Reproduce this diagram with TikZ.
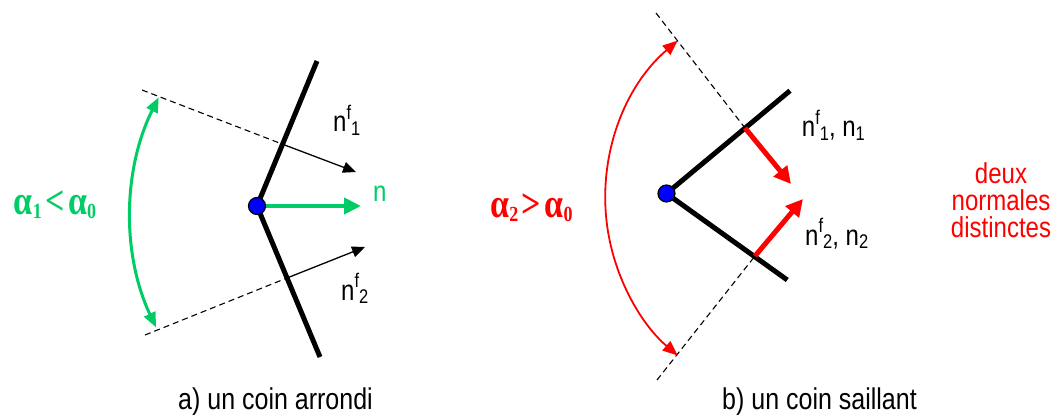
\documentclass[tikz,border=0pt]{standalone}
\usepackage{graphicx}
\usepackage{fontspec}
\setmainfont{Liberation Sans}
\newfontfamily\grkfont{Liberation Serif}
\usetikzlibrary{arrows.meta}
\definecolor{ggreen}{RGB}{0,204,102}
\definecolor{rred}{RGB}{255,0,0}
\definecolor{bblue}{RGB}{0,0,255}
\newcommand\lblfont{\fontsize{24}{28}\selectfont}
\newcommand\scrfont{\fontsize{16.5}{18}\selectfont}
\newcommand\nfv[1]{n\raisebox{.42em}{\scrfont f}\raisebox{-.12em}{\scrfont #1}}
\newcommand\nsub[1]{n\raisebox{-.12em}{\scrfont #1}}
\newcommand\stretchy[1]{\scalebox{1}[1.2]{#1}}
\newcommand\alf[3]{{\grkfont\bfseries\fontsize{34}{38}\selectfont α\raisebox{-.1em}{\fontsize{18}{18}\selectfont #1}\hspace{3.5pt}#2\hspace{3.5pt}α\raisebox{-.1em}{\fontsize{18}{18}\selectfont #3}}}
\begin{document}
\begin{tikzpicture}[x=1pt,y=-1pt,
  seg/.style={line width=5pt, line join=round},
  dsh/.style={line width=1.1pt, dash pattern=on 6pt off 4pt},
  nrm/.style={line width=1.3pt, -{Triangle[length=13pt,width=11pt]}},
  gthick/.style={ggreen, line width=4pt, -{Triangle[length=17pt,width=16pt]}},
  garc/.style={ggreen, line width=3pt, {Triangle[length=15pt,width=12pt]}-{Triangle[length=15pt,width=12pt]}},
  rthick/.style={rred, line width=5pt, -{Triangle[length=17pt,width=17pt]}},
  rarc/.style={rred, line width=1.8pt, {Triangle[length=15pt,width=12pt]}-{Triangle[length=15pt,width=12pt]}},
  vdot/.style={circle, fill=bblue, draw=black, line width=1.2pt, minimum size=17pt, inner sep=0pt},
  lab/.style={inner sep=0pt, anchor=base west, font=\lblfont},
  rlab/.style={inner sep=0pt, anchor=base, font=\lblfont, text=rred},
  captxt/.style={inner sep=0pt, anchor=base west, font=\fontsize{25}{30}\selectfont},
]
\useasboundingbox (0,0) rectangle (1055,415);

% ---------- left: coin arrondi ----------
\coordinate (V1) at (257,206);
\coordinate (T1) at (317,61);
\coordinate (B1) at (320,357);
\coordinate (D1a) at (142,90);
\coordinate (I1a) at (282,144);
\coordinate (E1a) at (356,172);
\coordinate (D1b) at (145,335);
\coordinate (I1b) at (287,278);
\coordinate (E1b) at (365,247);
\coordinate (G1) at (361,206);
\coordinate (A1) at (158.7,97.3);

\draw[dsh] (D1a) -- (I1a);
\draw[nrm] (I1a) -- (E1a);
\draw[dsh] (D1b) -- (I1b);
\draw[nrm] (I1b) -- (E1b);
\draw[seg] (T1) -- (V1) -- (B1);
\node[vdot] (P1) at (V1) {};
\draw[gthick] (P1) -- (G1);
\draw[garc] (A1) arc[start angle=153.5, end angle=205.2, radius=264pt];

\node[lab] (nf1) at (333,131.7) {\stretchy{\nfv{1}}};
\node[lab] (nf2) at (341,300) {\stretchy{\nfv{2}}};
\node[lab, text=ggreen] (nn) at (373,201.7) {\stretchy{n}};
\node[inner sep=0pt, text=ggreen] (al1) at (55,205) {\stretchy{\alf{1}{<}{0}}};
\node[captxt] (ca) at (178,409) {\stretchy{a) un coin arrondi}};

% ---------- right: coin saillant ----------
\coordinate (V2) at (666.5,193.5);
\coordinate (T2) at (790,90.7);
\coordinate (B2) at (787.3,280);
\coordinate (D2a) at (656,13);
\coordinate (I2a) at (745,128);
\coordinate (E2a) at (791,184);
\coordinate (D2b) at (657,380);
\coordinate (I2b) at (755,256);
\coordinate (E2b) at (803,199);
\coordinate (A2) at (677.7,40.6);

\draw[dsh] (D2a) -- (I2a);
\draw[dsh] (D2b) -- (I2b);
\draw[seg] (T2) -- (V2) -- (B2);
\draw[rthick] (I2a) -- (E2a);
\draw[rthick] (I2b) -- (E2b);
\node[vdot] (P2) at (V2) {};
\draw[rarc] (A2) arc[start angle=130.6, end angle=229.4, radius=207.4pt];

\node[lab] (nf1r) at (801.7,136.7) {\stretchy{\nfv{1}, \nsub{1}}};
\node[lab] (nf2r) at (805,245) {\stretchy{\nfv{2}, \nsub{2}}};
\node[inner sep=0pt, text=rred] (al2) at (531.5,208) {\stretchy{\alf{2}{>}{0}}};
\node[rlab] (dn1) at (1001,183) {\stretchy{deux}};
\node[rlab] (dn2) at (1001,210) {\stretchy{normales}};
\node[rlab] (dn3) at (1001,237) {\stretchy{distinctes}};
\node[captxt] (cb) at (722,409) {\stretchy{b) un coin saillant}};
\end{tikzpicture}
\end{document}
